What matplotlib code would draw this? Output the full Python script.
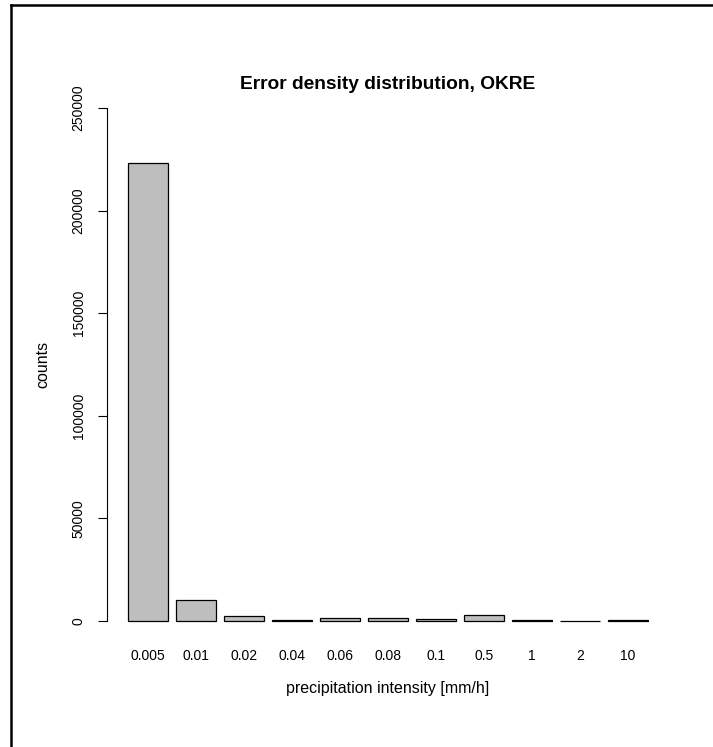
import matplotlib.pyplot as plt
from matplotlib.lines import Line2D

# precipitation intensity classes and error counts per class
classes = ['0.005', '0.01', '0.02', '0.04', '0.06', '0.08', '0.1', '0.5', '1', '2', '10']
counts = [223200, 10200, 2400, 600, 1400, 1600, 900, 2700, 400, 200, 300]
yticks = [0, 50000, 100000, 150000, 200000, 250000]

plt.rcParams['font.family'] = ['Liberation Sans', 'DejaVu Sans']

fig = plt.figure(figsize=(7.13, 7.47), dpi=100)
ax = fig.add_axes([0.1504, 0.1412, 0.7873, 0.7417])

# R-style barplot: width 1, space 0.2
pos = [0.7 + 1.2 * i for i in range(len(classes))]
ax.bar(pos, counts, width=1.0, color='#bebebe', edgecolor='black', linewidth=0.9)

ax.set_xlim(-0.32, 13.72)
ax.set_ylim(-10000, 260000)

for s in ['top', 'right', 'bottom']:
    ax.spines[s].set_visible(False)
ax.spines['left'].set_bounds(0, 250000)
ax.spines['left'].set_linewidth(0.8)

ax.set_yticks(yticks)
ax.set_yticklabels([str(v) for v in yticks], rotation=90, va='center', fontsize=10)
ax.tick_params(axis='y', length=6.5, width=0.8, pad=9)
ax.set_xticks(pos)
ax.set_xticklabels(classes, fontsize=10)
ax.tick_params(axis='x', length=0, pad=5.5)

ax.set_xlabel('precipitation intensity [mm/h]', fontsize=11.5, labelpad=13)
ax.set_ylabel('counts', fontsize=11.5, labelpad=15)
fig.text(0.5442, (747 - 89) / 747, 'Error density distribution, OKRE',
         fontsize=13.8, fontweight='bold', ha='center', va='baseline')

# frame lines on top and left of the image
fig.add_artist(Line2D([0.0154, 1.0], [0.9929, 0.9929], color='black', linewidth=1.8,
                      transform=fig.transFigure))
fig.add_artist(Line2D([0.0154, 0.0154], [0.0, 0.9929], color='black', linewidth=1.8,
                      transform=fig.transFigure))

fig.savefig('out.png', dpi=100)
